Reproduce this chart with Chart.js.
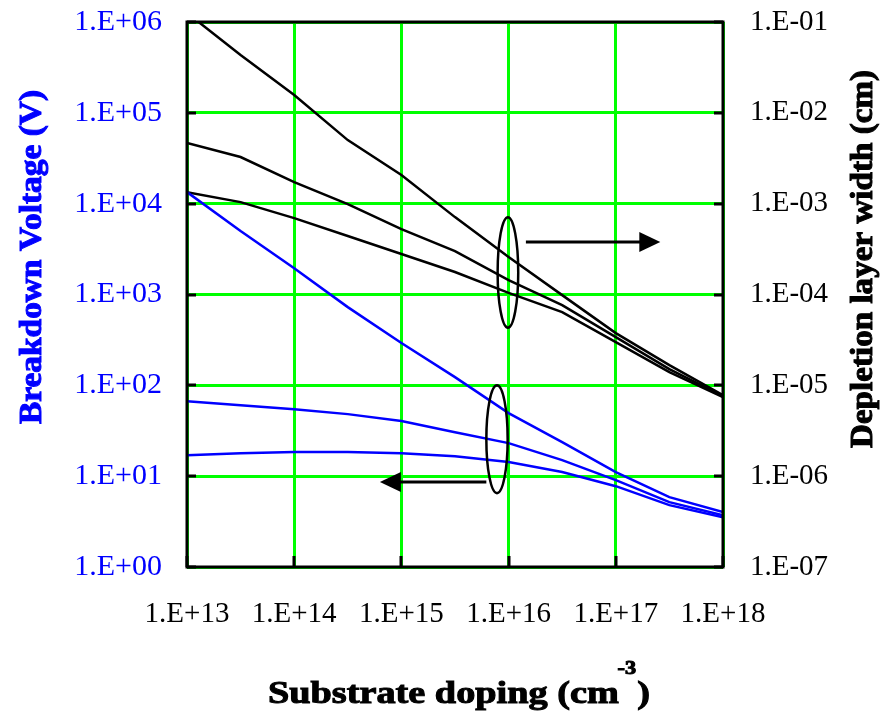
<!DOCTYPE html>
<html>
<head>
<meta charset="utf-8">
<script src="https://cdn.jsdelivr.net/npm/chart.js@4.4.1/dist/chart.umd.min.js"></script>
<style>
  html, body { margin: 0; padding: 0; background: #fff; }
  canvas { display: block; }
</style>
</head>
<body>
<canvas id="chart" width="884" height="712"></canvas>
<script>
// substrate doping (cm^-3), half-decade steps
const doping = [1e13, 3.16e13, 1e14, 3.16e14, 1e15, 3.16e15, 1e16, 3.16e16, 1e17, 3.16e17, 1e18];

// breakdown voltage (V), left axis
const voltageIdeal = [13400, 4990, 1950, 726, 292, 123, 49.4, 23.7, 11.1, 5.87, 4.02];
const voltageMid = [67.0, 60.5, 54.7, 48.2, 40.4, 30.5, 23.1, 15.0, 9.04, 5.18, 3.72];
const voltageThin = [17.0, 17.9, 18.4, 18.4, 17.9, 16.6, 14.3, 11.1, 7.76, 4.80, 3.53];

// depletion layer width (cm), right axis
const widthIdeal = [0.126, 0.0434, 0.0157, 0.00501, 0.00207, 7.11e-4, 2.58e-4, 9.84e-5, 3.76e-5, 1.67e-5, 7.80e-6];
const widthMid = [4.65e-3, 3.26e-3, 1.73e-3, 9.91e-4, 5.25e-4, 3.01e-4, 1.44e-4, 7.64e-5, 3.40e-5, 1.51e-5, 7.60e-6];
const widthThin = [1.34e-3, 1.04e-3, 6.93e-4, 4.40e-4, 2.79e-4, 1.77e-4, 1.04e-4, 6.40e-5, 2.99e-5, 1.40e-5, 7.41e-6];

// tick values
const dopingTicks = [1e13, 1e14, 1e15, 1e16, 1e17, 1e18];
const voltageTicks = [1, 10, 100, 1e3, 1e4, 1e5, 1e6];
const widthTicks = [1e-7, 1e-6, 1e-5, 1e-4, 1e-3, 1e-2, 1e-1];

// ellipse + arrow callouts (data coordinates)
const ellipses = [
  { axis: "y2", x0: 7.9e15, x1: 1.23e16, y0: 7.1e-4, y1: 4.3e-5 },
  { axis: "y", x0: 6.2e15, x1: 9.8e15, y0: 100, y1: 6.5 },
];
const arrows = [
  { axis: "y2", from: 1.45e16, to: 2.6e17, y: 3.78e-4 },
  { axis: "y", from: 6.2e15, to: 6.3e14, y: 8.6 },
];

const BLUE = "#0000ff";
const GREEN = "#00ff00";
const SERIF = "'Liberation Serif', 'Times New Roman', serif";

function sciLabel(v) {
  const e = Math.round(Math.log10(v));
  return "1.E" + (e < 0 ? "-" : "+") + String(Math.abs(e)).padStart(2, "0");
}

function pts(ys) {
  return doping.map((x, i) => ({ x: x, y: ys[i] }));
}

// heavy text, stretched to a given width
function fitText(ctx, text, w) {
  const m = ctx.measureText(text).width;
  ctx.save();
  ctx.scale(w / m, 1);
  ctx.fillText(text, 0, 0);
  ctx.strokeText(text, 0, 0);
  ctx.restore();
}

// y axes: no extra top/bottom padding for the tick labels
function fixVertical(width) {
  return s => {
    s.width = width;
    s.paddingTop = 0;
    s.paddingBottom = 0;
  };
}

const decorations = {
  id: "decorations",
  afterDraw(chart) {
    const ctx = chart.ctx;
    const a = chart.chartArea;
    const sx = chart.scales.x;
    const sy = chart.scales.y;

    ctx.save();
    // inward black tick marks
    ctx.strokeStyle = "#000";
    ctx.lineWidth = 3;
    ctx.beginPath();
    voltageTicks.forEach(v => {
      const y = Math.round(sy.getPixelForValue(v));
      ctx.moveTo(a.left, y); ctx.lineTo(a.left + 9, y);
      ctx.moveTo(a.right - 9, y); ctx.lineTo(a.right, y);
    });
    dopingTicks.forEach(v => {
      const x = Math.round(sx.getPixelForValue(v));
      ctx.moveTo(x, a.bottom); ctx.lineTo(x, a.bottom - 11);
    });
    ctx.stroke();

    // frame
    ctx.lineWidth = 3;
    ctx.strokeRect(a.left, a.top, a.right - a.left, a.bottom - a.top);

    // ellipses
    ctx.lineWidth = 2.5;
    ellipses.forEach(e => {
      const s = chart.scales[e.axis];
      const xa = sx.getPixelForValue(e.x0), xb = sx.getPixelForValue(e.x1);
      const ya = s.getPixelForValue(e.y0), yb = s.getPixelForValue(e.y1);
      ctx.beginPath();
      ctx.ellipse((xa + xb) / 2, (ya + yb) / 2, Math.abs(xb - xa) / 2, Math.abs(yb - ya) / 2, 0, 0, Math.PI * 2);
      ctx.stroke();
    });

    // arrows
    ctx.fillStyle = "#000";
    arrows.forEach(r => {
      const s = chart.scales[r.axis];
      const x0 = sx.getPixelForValue(r.from), x1 = sx.getPixelForValue(r.to);
      const y = s.getPixelForValue(r.y);
      const dir = Math.sign(x1 - x0);
      ctx.lineWidth = 3;
      ctx.beginPath();
      ctx.moveTo(x0, y); ctx.lineTo(x1 - dir * 18, y);
      ctx.stroke();
      ctx.beginPath();
      ctx.moveTo(x1, y);
      ctx.lineTo(x1 - dir * 21, y - 10);
      ctx.lineTo(x1 - dir * 21, y + 10);
      ctx.closePath();
      ctx.fill();
    });

    // axis titles
    ctx.font = "bold 31px " + SERIF;
    ctx.textBaseline = "alphabetic";
    ctx.lineWidth = 1;

    ctx.fillStyle = BLUE;
    ctx.strokeStyle = BLUE;
    ctx.save();
    ctx.translate(41, 257 + 167);
    ctx.rotate(-Math.PI / 2);
    fitText(ctx, "Breakdown Voltage (V)", 334);
    ctx.restore();

    ctx.fillStyle = "#000";
    ctx.strokeStyle = "#000";
    ctx.save();
    ctx.translate(872, 259 + 189);
    ctx.rotate(-Math.PI / 2);
    fitText(ctx, "Depletion layer width (cm)", 378);
    ctx.restore();

    // bottom title with superscript
    const main = "Substrate doping (cm";
    ctx.font = "bold 31px " + SERIF;
    const w1 = ctx.measureText(main).width;
    const w3 = ctx.measureText(")").width;
    ctx.font = "bold 18px " + SERIF;
    const w2 = ctx.measureText("-3").width;
    const k = 382 / (w1 + w2 + w3);
    ctx.save();
    ctx.translate(268, 703);
    ctx.scale(k, 1);
    ctx.font = "bold 31px " + SERIF;
    ctx.fillText(main, 0, 0);
    ctx.strokeText(main, 0, 0);
    ctx.fillText(")", w1 + w2, 0);
    ctx.strokeText(")", w1 + w2, 0);
    ctx.font = "bold 18px " + SERIF;
    ctx.fillText("-3", w1 - 1, -29);
    ctx.strokeText("-3", w1 - 1, -29);
    ctx.restore();

    ctx.restore();
  },
};

new Chart(document.getElementById("chart"), {
  type: "line",
  data: {
    datasets: [
      { label: "V ideal", data: pts(voltageIdeal), yAxisID: "y", borderColor: BLUE },
      { label: "V mid", data: pts(voltageMid), yAxisID: "y", borderColor: BLUE },
      { label: "V thin", data: pts(voltageThin), yAxisID: "y", borderColor: BLUE },
      { label: "W ideal", data: pts(widthIdeal), yAxisID: "y2", borderColor: "#000" },
      { label: "W mid", data: pts(widthMid), yAxisID: "y2", borderColor: "#000" },
      { label: "W thin", data: pts(widthThin), yAxisID: "y2", borderColor: "#000" },
    ],
  },
  options: {
    responsive: false,
    animation: false,
    devicePixelRatio: 1,
    layout: { padding: { top: 22, left: 0, right: 0, bottom: 0 } },
    elements: {
      line: { borderWidth: 2.5, tension: 0 },
      point: { radius: 0 },
    },
    plugins: {
      legend: { display: false },
      tooltip: { enabled: false },
    },
    scales: {
      x: {
        type: "logarithmic",
        position: "bottom",
        min: 1e13,
        max: 1e18,
        afterBuildTicks: s => { s.ticks = dopingTicks.map(v => ({ value: v })); },
        afterFit: s => { s.height = 145; },
        grid: { color: GREEN, lineWidth: 3, drawTicks: false },
        border: { display: false },
        ticks: {
          color: "#000",
          font: { family: SERIF, size: 29 },
          padding: 30,
          maxRotation: 0,
          autoSkip: false,
          callback: v => sciLabel(v),
        },
      },
      y: {
        type: "logarithmic",
        position: "left",
        min: 1,
        max: 1e6,
        afterBuildTicks: s => { s.ticks = voltageTicks.map(v => ({ value: v })); },
        afterFit: fixVertical(187),
        grid: { color: GREEN, lineWidth: 3, drawTicks: false },
        border: { display: false },
        ticks: {
          color: BLUE,
          font: { family: SERIF, size: 30 },
          padding: 25,
          autoSkip: false,
          callback: v => sciLabel(v),
        },
      },
      y2: {
        type: "logarithmic",
        position: "right",
        min: 1e-7,
        max: 1e-1,
        afterBuildTicks: s => { s.ticks = widthTicks.map(v => ({ value: v })); },
        afterFit: fixVertical(161),
        grid: { display: false, drawTicks: false },
        border: { display: false },
        ticks: {
          color: "#000",
          font: { family: SERIF, size: 29 },
          padding: 27,
          autoSkip: false,
          callback: v => sciLabel(v),
        },
      },
    },
  },
  plugins: [decorations],
});
</script>
</body>
</html>
